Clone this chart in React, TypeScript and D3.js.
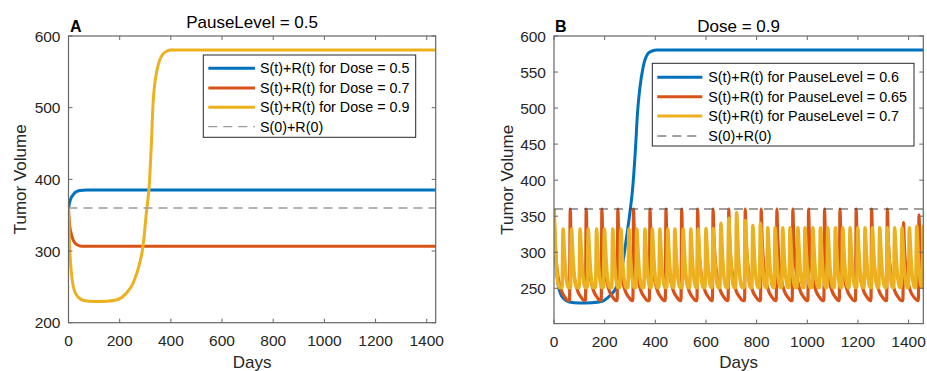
import React from "react";
import * as d3 from "d3";

// ---------- data ----------
const xTicks = [0, 200, 400, 600, 800, 1000, 1200, 1400];
const yTicksA = [200, 300, 400, 500, 600];
const yTicksB = [250, 300, 350, 400, 450, 500, 550, 600];
const initialVolume = 360; // S(0)+R(0)

// Panel A: PauseLevel = 0.5, [day, tumor volume]
const doseA05: [number, number][] = [
  [0, 360], [4, 367], [10, 374], [17, 378], [25, 381.5], [35, 383.5], [45, 384.5], [70, 385], [1440, 385],
];
const doseA07: [number, number][] = [
  [0, 360], [4, 338], [10, 325], [20, 314], [30, 309.5], [45, 307], [60, 306.5], [1440, 306.5],
];
const doseA09: [number, number][] = [
  [0, 360], [3, 318], [8, 284], [15, 258], [25, 243], [40, 235], [60, 231], [100, 229.5], [150, 230],
  [190, 232], [226, 241], [252, 255], [268, 270], [278, 283], [291, 306], [304, 352], [317, 399],
  [324, 450], [330, 503], [337, 533], [345, 551], [356, 566], [370, 575], [385, 579], [400, 580.5], [1440, 580.5],
];

// Panel B: Dose = 0.9
const pause06: [number, number][] = [
  [0, 360], [3, 318], [8, 284], [15, 258], [25, 243], [40, 235], [60, 231], [100, 229.5], [150, 230],
  [190, 232], [221, 240], [247, 252], [262, 268], [273, 288], [286, 320], [299, 353], [312, 395],
  [321, 440], [330, 495], [339, 528], [352, 557], [372, 576], [390, 579.5], [405, 580.5], [1460, 580.5],
];

const pause065PeakDays = [
  0, 64, 127, 189, 252, 314, 379, 442, 504, 567, 628, 690, 755, 818, 880, 943, 1005, 1068, 1129, 1193, 1254, 1316, 1380, 1441,
];
const pause065PeakValues = [
  360, 360, 360, 360, 360, 360, 360, 360, 360, 360, 360, 360, 360, 360, 360, 360, 360, 360, 360, 360, 360, 360, 341, 352,
];
const pause065Trough = 233;
const pause065ShapeDays = [0, 3, 7, 13, 20, 30, 42, 55];
const pause065ShapeLevels = [1, 0.72, 0.5, 0.32, 0.2, 0.1, 0.04, 0];

const pause07PeakDays = [
  0, 36, 69, 103, 135, 168, 199, 232, 264, 296, 327, 359, 388, 418, 449, 477, 510, 540, 569, 600, 628, 659,
  690, 721, 755, 785, 815, 844, 873, 903, 932, 963, 991, 1022, 1052, 1081, 1111, 1140, 1169, 1199, 1228,
  1257, 1286, 1316, 1345, 1374, 1403, 1432, 1458,
];
const pause07PeakValues = [
  360, 332, 332, 332, 332, 332, 332, 332, 332, 332, 332, 332, 332, 332, 332, 332, 332, 332, 332, 333, 333, 340,
  347, 355, 344, 337, 340, 334, 334, 334, 334, 334, 334, 334, 334, 334, 334, 334, 334, 334, 334,
  334, 334, 334, 334, 334, 334, 336, 336,
];
const pause07Trough = 251;
const pause07ShapeDays = [0, 3, 6, 10, 15, 21];
const pause07ShapeLevels = [1, 0.78, 0.52, 0.26, 0.08, 0];

const legendA = [
  "S(t)+R(t) for Dose = 0.5",
  "S(t)+R(t) for Dose = 0.7",
  "S(t)+R(t) for Dose = 0.9",
  "S(0)+R(0)",
];
const legendB = [
  "S(t)+R(t) for PauseLevel = 0.6",
  "S(t)+R(t) for PauseLevel = 0.65",
  "S(t)+R(t) for PauseLevel = 0.7",
  "S(0)+R(0)",
];

// ---------- helpers ----------
const COLORS = ["#0072BD", "#D95319", "#EDB120"];
const FONT = "'Liberation Sans', Arial, Helvetica, sans-serif";

function buildCycles(
  peakDays: number[],
  peakValues: number[],
  trough: number,
  shapeDays: number[],
  shapeLevels: number[],
  rise: number,
  endDay: number
): [number, number][] {
  const pts: [number, number][] = [];
  for (let i = 0; i < peakDays.length; i++) {
    const p = peakDays[i];
    const v = peakValues[i];
    const next = i + 1 < peakDays.length ? peakDays[i + 1] : endDay + 60;
    for (let k = 0; k < shapeDays.length; k++) {
      const d = p + shapeDays[k];
      if (k === 0 || d < next - rise) pts.push([d, trough + (v - trough) * shapeLevels[k]]);
    }
    if (i + 1 < peakDays.length) pts.push([next - rise, trough]);
  }
  return pts;
}

type Series = { data: [number, number][]; color: string; width: number };

function Panel(props: {
  x0: number; x1: number; y0: number; y1: number;
  xMax: number; yDomain: [number, number]; yTicks: number[];
  series: Series[]; dashColor: string; dashWidth: number;
  title: string; titleY: number; letter: string; letterX: number; letterY: number;
  ylabelX: number; legend: string[];
  lg: { x0: number; x1: number; y0: number; y1: number; rows: number[]; lx0: number; lx1: number; tx: number };
  id: string;
}) {
  const { x0, x1, y0, y1 } = props;
  const xs = d3.scaleLinear().domain([0, props.xMax]).range([x0, x1]);
  const ys = d3.scaleLinear().domain(props.yDomain).range([y1, y0]);
  const line = d3.line<[number, number]>().x((d) => xs(d[0])).y((d) => ys(d[1])).curve(d3.curveMonotoneX);
  const axisColor = "#666666";
  const textColor = "#262626";
  const tl = 4;
  const cx = (x0 + x1) / 2;
  const cy = (y0 + y1) / 2;
  return (
    <g>
      <defs>
        <clipPath id={props.id}>
          <rect x={x0} y={y0} width={x1 - x0} height={y1 - y0} />
        </clipPath>
      </defs>
      <g clipPath={`url(#${props.id})`}>
        {props.series.map((s, i) => (
          <path key={i} d={line(s.data) || ""} fill="none" stroke={s.color} strokeWidth={s.width} strokeLinejoin="round" />
        ))}
        <line x1={x0} x2={x1} y1={ys(initialVolume)} y2={ys(initialVolume)} stroke={props.dashColor}
          strokeWidth={props.dashWidth} strokeDasharray="9,6" />
      </g>
      {/* box */}
      <rect x={x0} y={y0} width={x1 - x0} height={y1 - y0} fill="none" stroke={axisColor} strokeWidth={1.2} />
      {xTicks.map((t) => (
        <g key={"x" + t}>
          <line x1={xs(t)} x2={xs(t)} y1={y1} y2={y1 - tl} stroke={axisColor} strokeWidth={1} />
          <line x1={xs(t)} x2={xs(t)} y1={y0} y2={y0 + tl} stroke={axisColor} strokeWidth={1} />
          <text x={xs(t)} y={y1 + 23.5} textAnchor="middle" fontSize={15.5} fill={textColor} fontFamily={FONT}>{t}</text>
        </g>
      ))}
      {props.yTicks.map((t) => (
        <g key={"y" + t}>
          <line x1={x0} x2={x0 + tl} y1={ys(t)} y2={ys(t)} stroke={axisColor} strokeWidth={1} />
          <line x1={x1} x2={x1 - tl} y1={ys(t)} y2={ys(t)} stroke={axisColor} strokeWidth={1} />
          <text x={x0 - 8} y={ys(t) + 5.5} textAnchor="end" fontSize={15.5} fill={textColor} fontFamily={FONT}>{t}</text>
        </g>
      ))}
      <text x={cx} y={368} textAnchor="middle" fontSize={17} fill={textColor} fontFamily={FONT}>Days</text>
      <text transform={`translate(${props.ylabelX},${cy}) rotate(-90)`} textAnchor="middle" fontSize={17}
        fill={textColor} fontFamily={FONT}>Tumor Volume</text>
      <text x={cx} y={props.titleY} textAnchor="middle" fontSize={17} fill="#000" fontFamily={FONT}>{props.title}</text>
      <text x={props.letterX} y={props.letterY} fontSize={16} fontWeight="bold" fill="#000" fontFamily={FONT}>{props.letter}</text>
      {/* legend */}
      <rect x={props.lg.x0} y={props.lg.y0} width={props.lg.x1 - props.lg.x0} height={props.lg.y1 - props.lg.y0}
        fill="#fff" stroke="#262626" strokeWidth={1} />
      {props.legend.map((label, i) => (
        <g key={"l" + i}>
          <line x1={props.lg.lx0} x2={props.lg.lx1} y1={props.lg.rows[i]} y2={props.lg.rows[i]}
            stroke={i < 3 ? COLORS[i] : props.dashColor} strokeWidth={i < 3 ? 3 : props.dashWidth}
            strokeDasharray={i < 3 ? undefined : "9,6"} />
          <text x={props.lg.tx} y={props.lg.rows[i] + 5} fontSize={14.3} fill="#000" fontFamily={FONT}>{label}</text>
        </g>
      ))}
    </g>
  );
}

export default function App() {
  const orangeB = buildCycles(pause065PeakDays, pause065PeakValues, pause065Trough, pause065ShapeDays, pause065ShapeLevels, 2.5, 1460);
  const yellowB = buildCycles(pause07PeakDays, pause07PeakValues, pause07Trough, pause07ShapeDays, pause07ShapeLevels, 4, 1460);
  return (
    <div style={{ position: "fixed", left: 0, top: 0, width: 927, height: 371, background: "#fff" }}>
      <svg width={927} height={371} style={{ display: "block" }}>
        <rect width={927} height={371} fill="#fff" />
        <Panel id="clipA" x0={68.5} x1={435.7} y0={36} y1={322.7} xMax={1435} yDomain={[200, 600]} yTicks={yTicksA}
          series={[
            { data: doseA05, color: COLORS[0], width: 3 },
            { data: doseA07, color: COLORS[1], width: 3 },
            { data: doseA09, color: COLORS[2], width: 3 },
          ]}
          dashColor="#9a9a9a" dashWidth={1.3}
          title="PauseLevel = 0.5" titleY={28} letter="A" letterX={70} letterY={31.5} ylabelX={26}
          legend={legendA}
          lg={{ x0: 203.3, x1: 415.7, y0: 55, y1: 137.3, rows: [68.3, 88, 107.3, 126.7], lx0: 208.3, lx1: 255, tx: 260 }}
        />
        <Panel id="clipB" x0={554} x1={923.3} y0={36} y1={323.6} xMax={1458} yDomain={[201, 600]} yTicks={yTicksB}
          series={[
            { data: pause06, color: COLORS[0], width: 3 },
            { data: orangeB, color: COLORS[1], width: 3.2 },
            { data: yellowB, color: COLORS[2], width: 3.6 },
          ]}
          dashColor="#404040" dashWidth={1}
          title="Dose = 0.9" titleY={31.5} letter="B" letterX={555} letterY={32} ylabelX={512.5}
          legend={legendB}
          lg={{ x0: 652.3, x1: 914, y0: 63.3, y1: 146, rows: [77.3, 96.7, 116, 136], lx0: 657.3, lx1: 702.3, tx: 708.3 }}
        />
      </svg>
    </div>
  );
}
